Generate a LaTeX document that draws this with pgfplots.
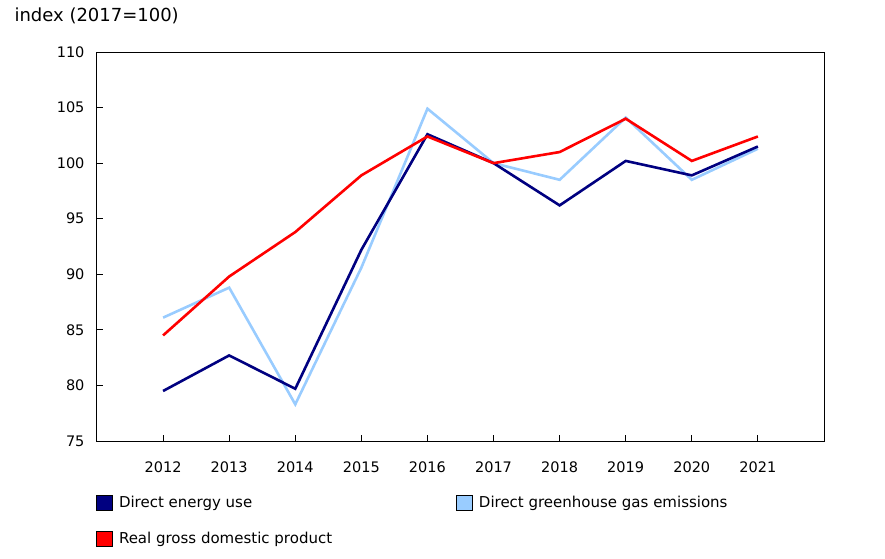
\documentclass[border=0pt]{standalone}
\usepackage{pgfplots}
\pgfplotsset{compat=1.18}
\usepackage{fontspec}
\setmainfont{DejaVu Sans}

\definecolor{energy}{RGB}{0,0,128}
\definecolor{ghg}{RGB}{153,204,255}
\definecolor{gdp}{RGB}{255,0,0}

\begin{document}
\begin{tikzpicture}
\useasboundingbox (0,0) rectangle (885pt,558pt);
\begin{axis}[
    at={(97pt,117pt)}, anchor=south west,
    width=727pt, height=389pt, scale only axis,
    xmin=2011, xmax=2022,
    ymin=75, ymax=110,
    xtick={2012,...,2021},
    ytick={75,80,...,110},
    /pgf/number format/assume math mode=true,
    xticklabel style={/pgf/number format/1000 sep={}, yshift=-17pt},
    yticklabel style={xshift=-9pt},
    tick label style={font=\fontsize{14.5pt}{17pt}\selectfont},
    tick align=inside,
    xtick pos=lower, ytick pos=left,
    major tick length=6pt,
    axis line style={line width=1pt},
    every tick/.style={black, line width=1pt},
    title={index (2017=100)},
    title style={font=\fontsize{18pt}{21pt}\selectfont, at={(rel axis cs:0,1)}, anchor=west,
        xshift=-86pt, yshift=30pt},
    legend style={font=\fontsize{15pt}{18pt}\selectfont, draw=none, at={(rel axis cs:0,0)},
        anchor=north west, yshift=-51pt, xshift=-4pt, row sep=19pt,
        /tikz/every odd column/.append style={column sep=4pt},
        /tikz/every even column/.append style={column sep=122pt}},
    legend columns=2,
    legend cell align=left,
    legend image code/.code={
        \fill[#1] (0pt,-7.5pt) rectangle (16pt,7.5pt);
        \draw[black, line width=0.8pt] (0pt,-7.5pt) rectangle (16pt,7.5pt);},
]
\addlegendimage{energy}
\addlegendentry{Direct energy use}
\addlegendimage{ghg}
\addlegendentry{Direct greenhouse gas emissions}
\addlegendimage{gdp}
\addlegendentry{Real gross domestic product}

% Direct greenhouse gas emissions
\addplot[ghg, line width=2.6pt, forget plot] coordinates {
(2012,86.1) (2013,88.8) (2014,78.3) (2015,90.6) (2016,104.9)
(2017,100.0) (2018,98.5) (2019,104.1) (2020,98.5) (2021,101.3)
};
% Direct energy use
\addplot[energy, line width=2.6pt, forget plot] coordinates {
(2012,79.5) (2013,82.7) (2014,79.7) (2015,92.2) (2016,102.6)
(2017,100.0) (2018,96.2) (2019,100.2) (2020,98.9) (2021,101.5)
};
% Real gross domestic product
\addplot[gdp, line width=2.6pt, forget plot] coordinates {
(2012,84.5) (2013,89.8) (2014,93.8) (2015,98.9) (2016,102.4)
(2017,100.0) (2018,101.0) (2019,104.0) (2020,100.2) (2021,102.4)
};
\end{axis}
\end{tikzpicture}
\end{document}
